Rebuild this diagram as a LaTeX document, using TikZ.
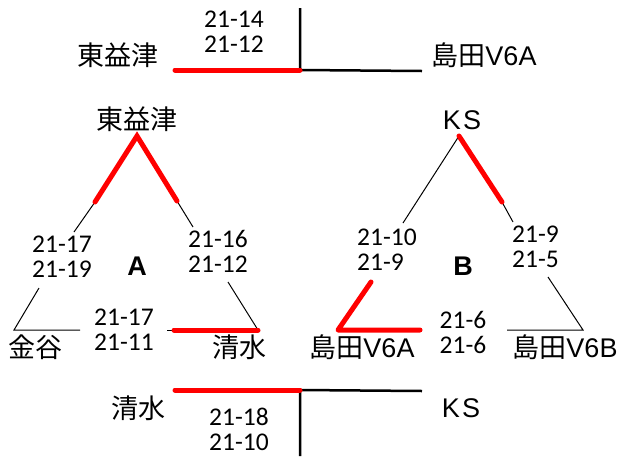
\documentclass[tikz,border=0pt]{standalone}
\usepackage{fontspec}
\setmainfont{Carlito}
\newfontfamily\jafont{Noto Sans CJK JP}
\newfontfamily\arfont{Liberation Sans}
\begin{document}
\begin{tikzpicture}[x=1pt,y=-1pt,
  num/.style={inner sep=0pt,align=center,font=\fontsize{25.5}{25}\selectfont},
  numl/.style={inner sep=0pt,align=left,anchor=west,font=\fontsize{25.5}{25}\selectfont},
  lab/.style={inner sep=0pt,font=\fontsize{27}{29}\selectfont},
  big/.style={inner sep=0pt,font=\arfont\bfseries\fontsize{27}{29}\selectfont},
  redline/.style={draw=red,line width=5pt,line cap=round},
  bracket/.style={draw=black,line width=2.5pt},
  thin/.style={draw=black,line width=1pt}]
\useasboundingbox (0,0) rectangle (619,456);
% ---------- top bracket ----------
\coordinate (tL) at (175,70);
\coordinate (tM) at (300,70);
\coordinate (tT) at (300,8);
\coordinate (tR) at (422,71);
\draw[bracket] (tT) -- (tM) -- (tR);
\draw[redline] (tL) -- (tM);
\node[num] (tn) at (234,32) {21-14\\21-12};
\node[lab] (tl) at (118,55) {\jafont 東益津};
\node[lab] (tr) at (484,55) {{\jafont 島田}{\arfont V6A}};
% ---------- triangle A ----------
\node[lab] (aTop) at (137,119) {\jafont 東益津};
\coordinate (aA) at (137,136);
\coordinate (aL1) at (95,202);
\coordinate (aL2) at (74,232);
\coordinate (aR1) at (177,201);
\coordinate (aR2) at (193,227);
\coordinate (aL3) at (39,288);
\coordinate (aBL) at (14,330);
\coordinate (aB1) at (80,330);
\coordinate (aB2) at (167,330);
\coordinate (aB3) at (174,330);
\coordinate (aBR) at (258,330);
\coordinate (aR3) at (228,282);
\draw[thin] (aL1) -- (aL2);
\draw[thin] (aR1) -- (aR2);
\draw[thin] (aL3) -- (aBL) -- (aB1);
\draw[thin] (aB2) -- (aB3);
\draw[thin] (aR3) -- (aBR);
\draw[redline] (aL1) -- (aA) -- (aR1);
\draw[redline] (aB3) -- (aBR);
\node[num] (aln) at (62,257) {21-17\\21-19};
\node[num] (arn) at (218,251) {21-16\\21-12};
\node[num] (abn) at (124,330) {21-17\\21-11};
\node[big] (aName) at (137,266) {A};
\node[lab] (aBLl) at (36,347) {\jafont 金谷};
\node[lab] (aBRl) at (239,347) {\jafont 清水};
% ---------- triangle B ----------
\node[lab] (bTop) at (462,120) {\arfont K\hspace{2pt}S};
\coordinate (bA) at (459,136);
\coordinate (bL1) at (403,223);
\coordinate (bR1) at (502,202);
\coordinate (bR2) at (513,222);
\coordinate (bL2) at (371,282);
\coordinate (bBL) at (338,330);
\coordinate (bB1) at (420,330);
\coordinate (bB2) at (507,330);
\coordinate (bBR) at (583,330);
\coordinate (bR3) at (548,277);
\draw[thin] (bA) -- (bL1);
\draw[thin] (bR1) -- (bR2);
\draw[thin] (bB2) -- (bBR) -- (bR3);
\draw[redline] (bA) -- (bR1);
\draw[redline,line join=round] (bL2) -- (bBL) -- (bB1);
\node[numl] (bln) at (357,250) {21-10\\21-9};
\node[numl] (brn) at (512,247) {21-9\\21-5};
\node[num] (bbn) at (463,332) {21-6\\21-6};
\node[big] (bName) at (463,266) {B};
\node[lab] (bBLl) at (362,347) {{\jafont 島田}{\arfont V6A}};
\node[lab] (bBRl) at (565,347) {{\jafont 島田}{\arfont V6B}};
% ---------- bottom bracket ----------
\coordinate (uL) at (175,390);
\coordinate (uM) at (300,390);
\coordinate (uB) at (300,456);
\coordinate (uR) at (422,391);
\draw[bracket] (uB) -- (uM) -- (uR);
\draw[redline] (uL) -- (uM);
\node[num] (un) at (239,429) {21-18\\21-10};
\node[lab] (ul) at (138,408) {\jafont 清水};
\node[lab] (ur) at (461,408) {\arfont K\hspace{2pt}S};
\end{tikzpicture}
\end{document}
